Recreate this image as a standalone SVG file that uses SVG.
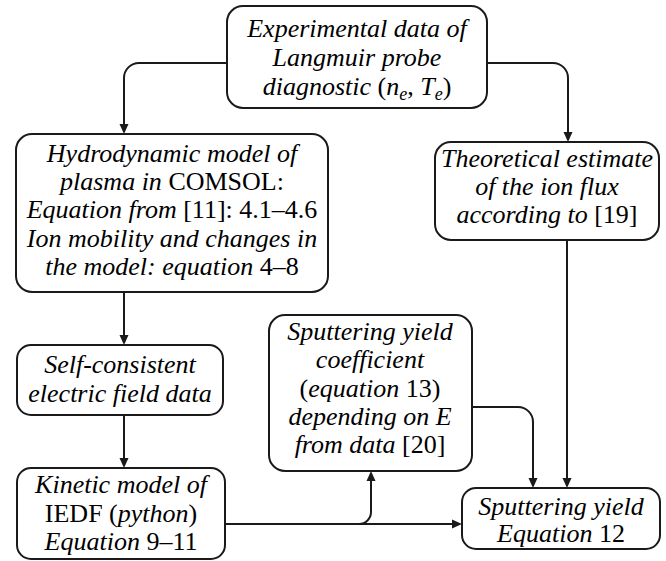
<svg xmlns="http://www.w3.org/2000/svg" width="666" height="561" viewBox="0 0 666 561">
<rect width="666" height="561" fill="#fff"/>
<g id="connectors">
<g fill="none" stroke="#1a1a1a" stroke-width="2">
<path d="M227,63 H139 A15,15 0 0 0 124,78 V126"/>
<path d="M487,63 H553 A15,15 0 0 1 568,78 V134"/>
<path d="M124,292 V337"/>
<path d="M124,415 V460"/>
<path d="M225,524 H454"/>
<path d="M340,524 H359 A12,12 0 0 0 371,512 V478"/>
<path d="M472,407 H518 A15,15 0 0 1 533,422 V480"/>
<path d="M567,240 V480"/>
</g>
<g fill="#1a1a1a">
<polygon points="119.5,124 128.5,124 124,134"/>
<polygon points="563.5,132 572.5,132 568,142"/>
<polygon points="119.5,335 128.5,335 124,345"/>
<polygon points="119.5,458 128.5,458 124,468"/>
<polygon points="452,519.5 452,528.5 462,524"/>
<polygon points="366.5,481 375.5,481 371,471"/>
<polygon points="528.5,478 537.5,478 533,488"/>
<polygon points="562.5,478 571.5,478 567,488"/>
</g>
</g>
<g id="experimental">
<rect x="227" y="6" width="260" height="102" rx="16" fill="#fff" stroke="#1a1a1a" stroke-width="2"/>
<text x="357" y="37" style="font-family:'Liberation Serif',serif;font-size:26px;font-style:italic" text-anchor="middle">Experimental data of</text>
<text x="357" y="66" style="font-family:'Liberation Serif',serif;font-size:26px;font-style:italic" text-anchor="middle">Langmuir probe</text>
<text x="357" y="95" style="font-family:'Liberation Serif',serif;font-size:26px" text-anchor="middle"><tspan font-style="italic">diagnostic </tspan>(<tspan font-style="italic">n</tspan><tspan font-style="italic" font-size="18" dy="5">e</tspan><tspan dy="-5">, </tspan><tspan font-style="italic">T</tspan><tspan font-style="italic" font-size="18" dy="5">e</tspan><tspan dy="-5">)</tspan></text>
</g>
<g id="hydrodynamic">
<rect x="16" y="134" width="312" height="158" rx="16" fill="#fff" stroke="#1a1a1a" stroke-width="2"/>
<text x="172" y="162" style="font-family:'Liberation Serif',serif;font-size:26px;font-style:italic" text-anchor="middle">Hydrodynamic model of</text>
<text x="172" y="190" style="font-family:'Liberation Serif',serif;font-size:26px" text-anchor="middle"><tspan font-style="italic">plasma in</tspan> COMSOL:</text>
<text x="172" y="218" style="font-family:'Liberation Serif',serif;font-size:26px" text-anchor="middle"><tspan font-style="italic">Equation from</tspan> [11]: 4.1&#8211;4.6</text>
<text x="172" y="247" style="font-family:'Liberation Serif',serif;font-size:26px;font-style:italic" text-anchor="middle">Ion mobility and changes in</text>
<text x="172" y="275" style="font-family:'Liberation Serif',serif;font-size:26px" text-anchor="middle"><tspan font-style="italic">the model: equation</tspan> 4&#8211;8</text>
</g>
<g id="theoretical">
<rect x="435" y="142" width="224" height="98" rx="16" fill="#fff" stroke="#1a1a1a" stroke-width="2"/>
<text x="547" y="167" style="font-family:'Liberation Serif',serif;font-size:26px;font-style:italic" text-anchor="middle">Theoretical estimate</text>
<text x="547" y="195" style="font-family:'Liberation Serif',serif;font-size:26px;font-style:italic" text-anchor="middle">of the ion flux</text>
<text x="547" y="223" style="font-family:'Liberation Serif',serif;font-size:26px" text-anchor="middle"><tspan font-style="italic">according to</tspan> [19]</text>
</g>
<g id="selfconsistent">
<rect x="17" y="345" width="206" height="70" rx="14" fill="#fff" stroke="#1a1a1a" stroke-width="2"/>
<text x="120" y="373" style="font-family:'Liberation Serif',serif;font-size:26px;font-style:italic" text-anchor="middle">Self-consistent</text>
<text x="120" y="402" style="font-family:'Liberation Serif',serif;font-size:26px;font-style:italic" text-anchor="middle">electric field data</text>
</g>
<g id="kinetic">
<rect x="17" y="468" width="208" height="91" rx="14" fill="#fff" stroke="#1a1a1a" stroke-width="2"/>
<text x="121" y="493" style="font-family:'Liberation Serif',serif;font-size:26px;font-style:italic" text-anchor="middle">Kinetic model of</text>
<text x="121" y="522" style="font-family:'Liberation Serif',serif;font-size:26px" text-anchor="middle">IEDF (<tspan font-style="italic">python</tspan>)</text>
<text x="121" y="550" style="font-family:'Liberation Serif',serif;font-size:26px" text-anchor="middle"><tspan font-style="italic">Equation</tspan> 9&#8211;11</text>
</g>
<g id="coefficient">
<rect x="269" y="315" width="203" height="156" rx="16" fill="#fff" stroke="#1a1a1a" stroke-width="2"/>
<text x="370" y="340" style="font-family:'Liberation Serif',serif;font-size:26px;font-style:italic" text-anchor="middle">Sputtering yield</text>
<text x="370" y="368" style="font-family:'Liberation Serif',serif;font-size:26px;font-style:italic" text-anchor="middle">coefficient</text>
<text x="370" y="397" style="font-family:'Liberation Serif',serif;font-size:26px" text-anchor="middle">(<tspan font-style="italic">equation</tspan> 13)</text>
<text x="370" y="425" style="font-family:'Liberation Serif',serif;font-size:26px;font-style:italic" text-anchor="middle">depending on E</text>
<text x="370" y="453" style="font-family:'Liberation Serif',serif;font-size:26px" text-anchor="middle"><tspan font-style="italic">from data</tspan> [20]</text>
</g>
<g id="yield">
<rect x="462" y="488" width="198" height="61" rx="14" fill="#fff" stroke="#1a1a1a" stroke-width="2"/>
<text x="561" y="515" style="font-family:'Liberation Serif',serif;font-size:26px;font-style:italic" text-anchor="middle">Sputtering yield</text>
<text x="561" y="542" style="font-family:'Liberation Serif',serif;font-size:26px" text-anchor="middle"><tspan font-style="italic">Equation</tspan> 12</text>
</g>
</svg>
